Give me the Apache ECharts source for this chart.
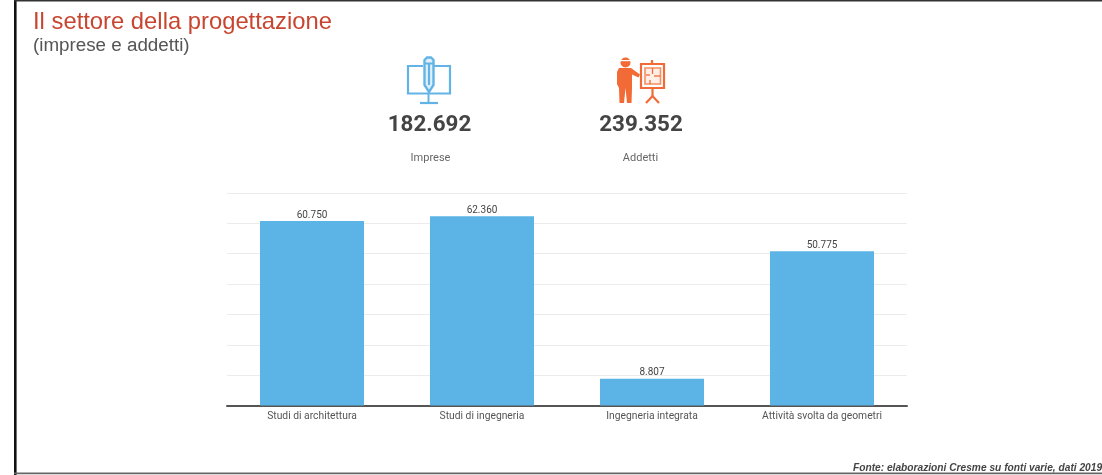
<!DOCTYPE html>
<html><head><meta charset="utf-8">
<style>html,body{margin:0;padding:0;background:#fff}#c{width:1102px;height:475px}</style>
<script src="https://cdn.jsdelivr.net/npm/echarts@6/dist/echarts.min.js"></script>
</head><body><div id="c"></div>
<script>
const categories = ['Studi di architettura','Studi di ingegneria','Ingegneria integrata','Attività svolta da geometri'];
const impreseValues = [60750,62360,8807,50775];
const kpiValues = ['182.692','239.352'];
const kpiLabels = ['Imprese','Addetti'];
const BLUE='#5cb3e6', ORANGE='#f26a35', ICON_BLUE='#63b4e6';
const fmt = v => String(v).replace(/\B(?=(\d{3})+$)/g,'.');
const line=(x1,y1,x2,y2,color,w)=>({type:'line',shape:{x1,y1,x2,y2},style:{stroke:color,lineWidth:w},silent:true});
const rect=(x,y,width,height,o)=>({type:'rect',shape:{x,y,width,height,r:o.r||0},style:{fill:o.fill||'transparent',stroke:o.stroke,lineWidth:o.w||0},silent:true});
const poly=(points,o)=>({type:'polygon',shape:{points},style:{fill:o.fill||'transparent',stroke:o.stroke,lineWidth:o.w||0},silent:true});
const pline=(points,color,w)=>({type:'polyline',shape:{points},style:{stroke:color,lineWidth:w,fill:'transparent'},silent:true});

const iconBlue=[
 pline([[423,66],[408,66],[408,93.5],[450,93.5],[450,66],[434,66]],ICON_BLUE,2.2),
 line(428.5,94,428.5,103,ICON_BLUE,2), line(420,103,438,103,ICON_BLUE,2.2),
 poly([[424.5,60],[427,57.5],[431,57.5],[433.5,60],[433.5,85],[429,92],[424.5,85]],{fill:'#dff0fa',stroke:ICON_BLUE,w:2.4}),
 line(429,64,429,85,ICON_BLUE,2.2), line(424.5,63.5,433.5,63.5,ICON_BLUE,2)
];
const iconOrange=[
 {type:'circle',shape:{cx:625.5,cy:62.5,r:5},style:{fill:ORANGE},silent:true},
 rect(619.5,60,12,1.2,{fill:'#fff'}),
 poly([[619,68],[631,68],[640,74.5],[638.5,77.5],[632,74.5],[632,88],[631.5,103],[627,103],[625.5,88],[624,103],[619.5,103],[619,88],[618,86],[617,84],[617,72]],{fill:ORANGE}),
 rect(641,64,23,24,{stroke:ORANGE,w:2.2,fill:'#fff'}),
 rect(645,68,15.5,16,{stroke:'#f58f62',w:1.6,fill:'#fdeee6'}),
 line(652,60,652,64,ORANGE,2.2),
 line(652.5,88,652.5,97,ORANGE,2.2),
 pline([[646,103],[652.5,96],[659,103]],ORANGE,2.2),
 line(652.5,68,652.5,74,ORANGE,1.3),line(646,75,650,75,ORANGE,1.3),line(654,76,660,76,ORANGE,1.3),line(650,80,650,84,ORANGE,1.3)
];
const frame=[
 rect(14,0,2.6,475,{fill:'#111'}),
 rect(14,0,1088,1.5,{fill:'#333'}),
 rect(14,472.5,1088,1.8,{fill:'#666'})
];
const t=(text,left,top,size,color,extra)=>({text,left,top,padding:0,textStyle:Object.assign({fontSize:size,color,fontWeight:'normal',fontFamily:'Liberation Sans'},extra||{})});
const kpi=(text,cx,top,size,color,weight)=>({text,left:cx,top,padding:0,textAlign:'center',textStyle:{fontSize:size,color,fontWeight:weight,fontFamily:'Roboto'}});

echarts.init(document.getElementById('c'),null,{renderer:'canvas'}).setOption({
 animation:false,
 backgroundColor:'#fff',
 title:[
  t('Il settore della progettazione',33,10,23.8,'#c8452f'),
  t('(imprese e addetti)',33,36.5,18.8,'#555'),
  kpi(kpiValues[0],429.5,114,22.4,'#444','bold'),
  kpi(kpiValues[1],641,114,22.4,'#444','bold'),
  kpi(kpiLabels[0],430.5,152.5,11,'#666','normal'),
  kpi(kpiLabels[1],640.5,152.5,11,'#666','normal'),
  t('Fonte: elaborazioni Cresme su fonti varie, dati 2019',853,463,10.2,'#444',{fontStyle:'italic',fontWeight:'bold'})
 ],
 grid:{left:227,top:193,width:680,height:212.5,containLabel:false},
 xAxis:{type:'category',data:categories,
  axisTick:{show:false},
  axisLine:{lineStyle:{color:'#555',width:2}},
  axisLabel:{fontFamily:'Roboto',fontSize:10.3,color:'#555',margin:5.5}},
 yAxis:{type:'value',min:0,max:70000,interval:10000,
  axisLabel:{show:false},axisLine:{show:false},axisTick:{show:false},
  splitLine:{lineStyle:{color:'#ececec',width:1}}},
 series:[{type:'bar',data:impreseValues,barWidth:'61.2%',
  itemStyle:{color:BLUE},
  label:{show:true,position:'top',distance:1,fontFamily:'Roboto',fontSize:10,color:'#444',formatter:p=>fmt(p.value)}}],
 graphic:{elements:[...frame,...iconBlue,...iconOrange]}
});
</script></body></html>
